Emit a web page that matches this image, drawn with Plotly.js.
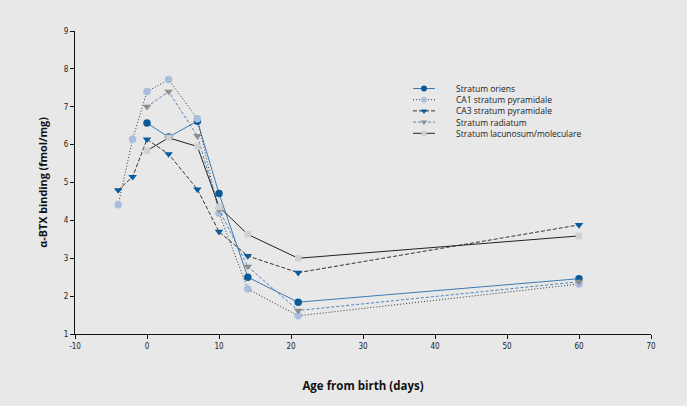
<!DOCTYPE html>
<html>
<head>
<meta charset="utf-8">
<script src="https://cdn.plot.ly/plotly-3.0.1.min.js"></script>
<style>html,body{margin:0;padding:0;background:#e8e8e8;}</style>
</head>
<body>
<div id="chart" style="width:687px;height:406px;"></div>
<script>
// Data
const orientsX = [0, 3, 7, 10, 14, 21, 60];
const orientsY = [6.57, 6.20, 6.62, 4.71, 2.50, 1.84, 2.46];

const ca1X = [-4, -2, 0, 3, 7, 10, 14, 21, 60];
const ca1Y = [4.41, 6.14, 7.40, 7.72, 6.68, 4.19, 2.19, 1.48, 2.32];

const ca3X = [-4, -2, 0, 3, 7, 10, 14, 21, 60];
const ca3Y = [4.80, 5.15, 6.14, 5.75, 4.82, 3.70, 3.06, 2.62, 3.88];

const radiatumX = [0, 3, 7, 10, 14, 21, 60];
const radiatumY = [7.00, 7.40, 6.23, 4.29, 2.78, 1.62, 2.38];

const lacunosumX = [0, 3, 7, 10, 14, 21, 60];
const lacunosumY = [5.84, 6.18, 5.95, 4.36, 3.63, 3.00, 3.59];

const seriesNames = ["Stratum oriens", "CA1 stratum pyramidale", "CA3 stratum pyramidale", "Stratum radiatum", "Stratum lacunosum/moleculare"];
const xTickVals = [-10, 0, 10, 20, 30, 40, 50, 60, 70];
const yTickVals = [1, 2, 3, 4, 5, 6, 7, 8, 9];

const darkBlue = "#0b5a9a";
const lightBlue = "#a9bddc";

const styles = [
  {line: {color: "#3b7ab4", width: 1, dash: "solid"}, marker: {symbol: "circle", color: darkBlue}},
  {line: {color: "#333333", width: 1, dash: "1px,2px"}, marker: {symbol: "circle", color: lightBlue}},
  {line: {color: "#333333", width: 1, dash: "4px,2px"}, marker: {symbol: "triangle-down", color: darkBlue}},
  {line: {color: "#4f86bd", width: 1, dash: "3px,2px"}, marker: {symbol: "triangle-down", color: "#8e8e8e"}},
  {line: {color: "#222222", width: 1, dash: "solid"}, marker: {symbol: "square", color: "#d0d0d0"}}
];
const dataX = [orientsX, ca1X, ca3X, radiatumX, lacunosumX];
const dataY = [orientsY, ca1Y, ca3Y, radiatumY, lacunosumY];
const sizes = [7.5, 7.5, 7.5, 7.5, 6.5];

const traces = [];
for (let i = 0; i < seriesNames.length; i++) {
  traces.push({
    x: dataX[i], y: dataY[i], name: seriesNames[i], mode: "lines+markers",
    line: styles[i].line,
    marker: {symbol: styles[i].marker.symbol, color: styles[i].marker.color, size: sizes[i]},
    xaxis: "x", yaxis: "y", showlegend: false
  });
}
// Compact legend drawn on an auxiliary, hidden axis pair
const legendAnnotations = [];
for (let i = 0; i < seriesNames.length; i++) {
  traces.push({
    x: [0, 1], y: [i, i], mode: "lines", line: styles[i].line,
    xaxis: "x2", yaxis: "y2", showlegend: false, hoverinfo: "skip"
  });
  traces.push({
    x: [0.5], y: [i], mode: "markers",
    marker: {symbol: styles[i].marker.symbol, color: styles[i].marker.color, size: i === 4 ? 5 : 6},
    xaxis: "x2", yaxis: "y2", showlegend: false, hoverinfo: "skip"
  });
  legendAnnotations.push({
    x: 0.6597, y: i, xref: "paper", yref: "y2", text: seriesNames[i],
    showarrow: false, xanchor: "left", yanchor: "middle", borderpad: 0,
    font: {family: "Open Sans, sans-serif", size: 8.5, color: "#222"}
  });
}

const tickFont = {family: "DejaVu Sans Condensed, Liberation Sans Narrow, sans-serif", size: 8, color: "#222"};

const layout = {
  width: 687, height: 406,
  paper_bgcolor: "#e8e8e8", plot_bgcolor: "#e8e8e8",
  margin: {l: 75, r: 36, t: 31, b: 72},
  showlegend: false,
  annotations: legendAnnotations,
  xaxis: {
    range: [-10, 70], tickvals: xTickVals, ticktext: xTickVals.map(String),
    showgrid: false, zeroline: false, showline: true, linecolor: "#111", linewidth: 1,
    ticks: "outside", ticklen: 4, tickcolor: "#111", tickfont: tickFont,
    title: {text: "Age from birth (days)", font: {family: "Open Sans, sans-serif", size: 11.5, color: "#111", weight: "bold"}, standoff: 32}
  },
  yaxis: {
    range: [1, 9], tickvals: yTickVals, ticktext: yTickVals.map(String),
    showgrid: false, zeroline: false, showline: true, linecolor: "#111", linewidth: 1,
    ticks: "outside", ticklen: 4, tickcolor: "#111", tickfont: tickFont,
    title: {text: "α-BTX binding (fmol/mg)", font: {family: "Open Sans, sans-serif", size: 10.8, color: "#111", weight: "bold"}, standoff: 14}
  },
  xaxis2: {domain: [0.5868, 0.625], range: [0, 1], anchor: "y2", visible: false, fixedrange: true},
  yaxis2: {domain: [0.6439, 0.8287], range: [4.5, -0.5], anchor: "x2", visible: false, fixedrange: true}
};

Plotly.newPlot("chart", traces, layout, {displayModeBar: false, staticPlot: true});
</script>
</body>
</html>
